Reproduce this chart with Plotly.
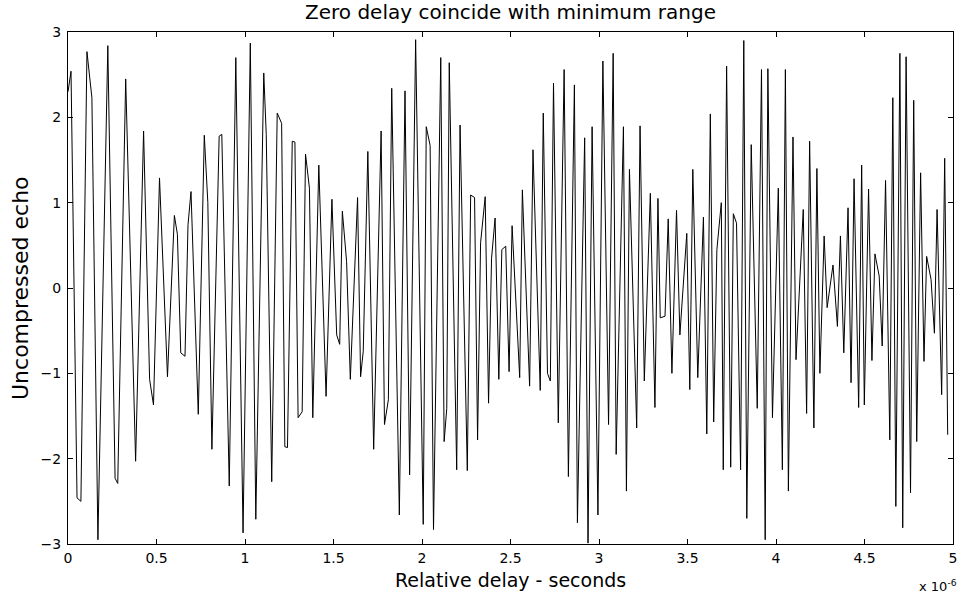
import plotly.graph_objects as go

# time in microseconds (scaled by 1e-6 below), echo amplitude
t_us = [0.000, 0.017, 0.051, 0.073, 0.107, 0.135, 0.169, 0.225, 0.266, 0.281,
        0.326, 0.382, 0.427, 0.461, 0.483, 0.517, 0.562, 0.601, 0.618, 0.637,
        0.661, 0.678, 0.695, 0.736, 0.770, 0.790, 0.813, 0.854, 0.869, 0.911,
        0.948, 0.989, 1.030, 1.061, 1.106, 1.120, 1.151, 1.182, 1.207, 1.225,
        1.240, 1.267, 1.282, 1.300, 1.323, 1.342, 1.364, 1.383, 1.417, 1.458,
        1.491, 1.518, 1.535, 1.550, 1.574, 1.595, 1.636, 1.653, 1.668, 1.694,
        1.727, 1.769, 1.788, 1.810, 1.829, 1.872, 1.904, 1.930, 1.964, 2.007,
        2.024, 2.046, 2.065, 2.106, 2.125, 2.140, 2.154, 2.196, 2.215, 2.256,
        2.275, 2.297, 2.314, 2.331, 2.357, 2.376, 2.393, 2.413, 2.434, 2.451,
        2.473, 2.492, 2.509, 2.552, 2.567, 2.608, 2.627, 2.668, 2.685, 2.709,
        2.725, 2.743, 2.770, 2.803, 2.827, 2.861, 2.878, 2.919, 2.938, 2.961,
        2.994, 3.022, 3.054, 3.080, 3.097, 3.138, 3.155, 3.172, 3.213, 3.232,
        3.256, 3.290, 3.316, 3.333, 3.346, 3.373, 3.391, 3.412, 3.438, 3.457,
        3.496, 3.513, 3.530, 3.558, 3.590, 3.609, 3.629, 3.648, 3.666, 3.691,
        3.702, 3.721, 3.744, 3.759, 3.777, 3.800, 3.818, 3.835, 3.860, 3.894,
        3.918, 3.939, 3.954, 3.980, 4.013, 4.036, 4.053, 4.070, 4.096, 4.113,
        4.154, 4.173, 4.190, 4.214, 4.231, 4.248, 4.272, 4.289, 4.322, 4.347,
        4.364, 4.383, 4.407, 4.424, 4.441, 4.467, 4.484, 4.499, 4.523, 4.542,
        4.559, 4.583, 4.600, 4.619, 4.643, 4.660, 4.677, 4.700, 4.716, 4.735,
        4.760, 4.778, 4.795, 4.817, 4.836, 4.851, 4.876, 4.895, 4.910, 4.936,
        4.953, 4.970]

echo = [2.30, 2.54, -2.46, -2.50, 2.77, 2.23, -2.95, 2.84, -2.23, -2.29,
        2.45, -2.03, 1.84, -1.07, -1.37, 1.29, -1.04, 0.85, 0.63, -0.76,
        -0.80, 0.74, 1.13, -1.48, 1.79, 1.00, -1.89, 1.78, 1.80, -2.32,
        2.70, -2.87, 2.87, -2.71, 2.52, 1.80, -2.27, 2.05, 1.93, -1.86,
        -1.87, 1.72, 1.71, -1.52, -1.45, 1.57, 1.17, -1.52, 1.44, -1.27,
        1.04, -0.55, -0.66, 0.90, 0.31, -1.07, 1.06, -1.04, -0.74, 1.60,
        -1.89, 1.84, -1.60, -1.31, 2.34, -2.66, 2.31, -2.19, 2.91, -2.77,
        1.89, 1.67, -2.83, 2.70, -1.80, -1.41, 2.64, -2.13, 1.91, -2.14,
        1.09, 1.06, -1.78, 0.53, 1.07, -1.35, 0.35, 0.82, -1.07, 0.45,
        0.49, -0.98, 0.73, -1.05, 1.15, -1.15, 1.62, -1.20, 2.05, -1.00,
        -1.09, 2.40, -1.58, 2.56, -2.21, 2.38, -2.75, 1.76, -2.99, 1.89,
        -2.66, 2.66, -1.60, 2.75, -1.95, 1.89, -2.38, 1.39, -1.64, 1.90,
        -1.09, 1.11, -1.40, 1.05, -0.35, -0.33, 0.81, -1.00, 0.91, -0.55,
        0.64, -1.19, 1.39, -1.05, 0.83, -1.71, 2.04, -1.57, 0.45, 1.00,
        -2.13, 2.60, -2.10, 0.87, 0.76, -2.13, 2.90, -2.70, 1.68, -1.41,
        2.56, -2.95, 2.57, -1.52, 1.17, -2.13, 2.56, -2.38, 1.77, -0.84,
        0.92, -1.47, 1.72, -1.64, 1.40, -1.00, 0.61, -0.23, 0.27, -0.45,
        0.61, -0.76, 0.94, -1.11, 1.28, -1.40, 1.44, -1.37, 1.16, -0.85,
        0.40, 0.14, -0.68, 1.26, -1.78, 2.23, -2.56, 2.75, -2.81, 2.71,
        -2.40, 2.20, -1.80, 1.35, -0.86, 0.37, 0.10, -0.53, 0.92, -1.25,
        1.52, -1.72]

x_tick_vals = [0, 0.5, 1, 1.5, 2, 2.5, 3, 3.5, 4, 4.5, 5]
x_tick_text = ["0", "0.5", "1", "1.5", "2", "2.5", "3", "3.5", "4", "4.5", "5"]
y_tick_vals = [-3, -2, -1, 0, 1, 2, 3]

x_sec = [v * 1e-6 for v in t_us]

font_family = "DejaVu Sans, Arial, sans-serif"

fig = go.Figure()
fig.add_trace(go.Scatter(x=x_sec, y=echo, mode="lines",
                         line=dict(color="black", width=1), showlegend=False))

axis_common = dict(showline=True, linecolor="black", linewidth=1, mirror="ticks",
                   ticks="inside", ticklen=5, tickcolor="black", showgrid=False,
                   zeroline=False, tickfont=dict(family=font_family, size=14, color="black"))

fig.update_layout(
    width=965, height=598,
    margin=dict(l=68, r=8, t=32, b=54),
    paper_bgcolor="white", plot_bgcolor="white",
    xaxis=dict(range=[0, 5e-6], tickvals=[v * 1e-6 for v in x_tick_vals],
               ticktext=x_tick_text, ticklabelstandoff=1, **axis_common),
    yaxis=dict(range=[-3, 3], tickvals=y_tick_vals, ticklabelstandoff=3, **axis_common),
    annotations=[
        dict(text="Zero delay coincide with minimum range", xref="paper", yref="paper",
             x=0.5, y=1, xanchor="center", yanchor="middle", yshift=20, showarrow=False,
             font=dict(family=font_family, size=20, color="black")),
        dict(text="Relative delay - seconds", xref="paper", yref="paper",
             x=0.5, y=0, xanchor="center", yanchor="middle", yshift=-36, showarrow=False,
             font=dict(family=font_family, size=19, color="black")),
        dict(text="Uncompressed echo", xref="paper", yref="paper", textangle=-90,
             x=0, y=0.5, xanchor="center", yanchor="middle", xshift=-48, showarrow=False,
             font=dict(family=font_family, size=22, color="black")),
        dict(text="x 10<sup>-6</sup>", xref="paper", yref="paper",
             x=1.0, y=0, xanchor="right", yanchor="top", yshift=-32, xshift=6,
             showarrow=False, font=dict(family=font_family, size=13, color="black")),
    ],
)

fig.write_html("out.html")
